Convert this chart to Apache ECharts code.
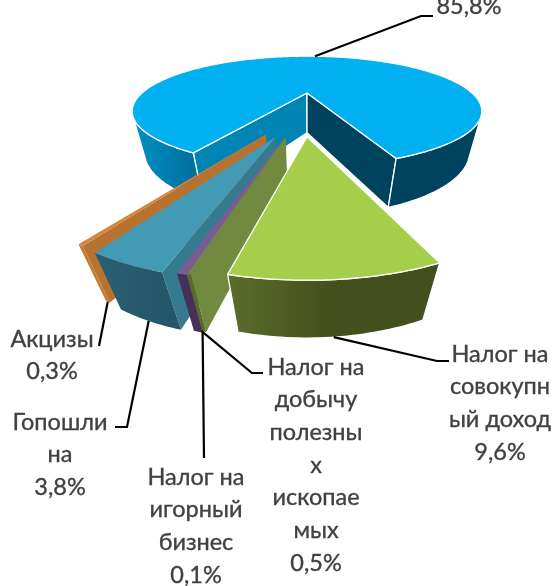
<!DOCTYPE html>
<html><head><meta charset="utf-8">
<style>html,body{margin:0;padding:0;background:#fff}#c{width:557px;height:586px}</style>
<script src="https://cdn.jsdelivr.net/npm/echarts@6/dist/echarts.min.js"></script>
</head><body><div id="c"></div>
<script>
// DATA
const categories = ['', 'Налог на\nсовокупн\nый доход', 'Налог на\nдобычу\nполезны\nх\nископае\nмых', 'Налог на\nигорный\nбизнес', 'Гопошли\nна', 'Акцизы'];
const shares = [85.8, 9.6, 0.5, 0.1, 3.8, 0.3];

// STYLE AND LAYOUT
const drawOrder = [0, 5, 4, 2, 3, 1];
const explode = [[0, 0], [0, 0.69], [-0.1, 0.69], [-0.103, 0.694], [-0.145, 0.69], [-0.195, 0.658]];
const minSweep = [0, 0, 0, 1.7, 0, 0];
const topColor = ['#00B0F0', '#A6CE4B', '#718A40', '#7A5C92', '#439AB4', '#D5843A'];
const startWall = ['#0084B4', '#43501C', '#718A40', null, '#367A90', '#B8722F'];
const endWall = ['#00435E', '#5A6B2A', '#718A40', '#46305A', '#255868', '#C47A32'];
const outerWallLeft = [['#0090C4', '#006C98'], ['#5A6B2A', '#43501C'], ['#5A6B2A', '#5A6B2A'], ['#46305A', '#46305A'], ['#2A6072', '#235565'], ['#C47A32', '#C47A32']];
const outerWallRight = [['#00435E', '#00435E'], ['#5C6D2B', '#434F1C', '#434F1C'], ['#5A6B2A', '#5A6B2A'], ['#46305A', '#46305A'], ['#2A6072', '#235565'], ['#C47A32', '#C47A32']];
const whiteEdge = [true, true, false, false, false, false];
const labelCenter = [[469, 6], [500, 354], [316, 367], [196, 477], [60, 422], [52, 339]];
const leaderFrac = [0.5, 0.5, 0.5, 0, 0.5, 0.5];
const leaderOnTop = [true, false, false, false, false, false];
const leaderBends = [[[421, 16], [433, 16]], [[437, 361], [449, 361]], [[252, 373], [263, 373]], [[204, 458]], [[127, 427], [115, 427]], [[99, 346]]];
const firstAngle = -29.41;
const lineHeight = 32.7;
const cam = {cx: 307, cy: 93, R: 165, Rk: 49, p: 0.33, vy: 714, t0: 0.064, t1: 0.055};

const total = shares.reduce((a, b) => a + b, 0);
const rad = d => d * Math.PI / 180;
// Projection of a point of the pie's plane, in radius units
function project(X, Y, bottom) {
  const s = 1 / (1 - cam.p * Y);
  let x = cam.cx + cam.R * X * s, y = cam.cy + cam.Rk * Y * s;
  if (bottom) {
    const t = cam.t0 + cam.t1 * (s - 1);
    x += (cam.cx - x) * t; y += (cam.vy - y) * t;
  }
  return [x, y];
}
function sliceAngles(i) {
  let c = 0;
  for (let k = 0; k < i; k++) c += shares[k];
  const a1 = firstAngle - c / total * 360;
  const a2 = firstAngle - (c + shares[i]) / total * 360;
  const sweep = Math.max(a1 - a2, minSweep[i]);
  return [a2 + sweep, a2];
}
function rim(i, a, bottom) {
  const e = explode[i];
  return project(e[0] + Math.sin(rad(a)), e[1] + Math.cos(rad(a)), bottom);
}
function area(p) {
  let s = 0;
  for (let k = 0; k < p.length; k++) { const n = p[(k + 1) % p.length]; s += p[k][0] * n[1] - n[0] * p[k][1]; }
  return s / 2;
}
function hGrad(c) {
  return {type: 'linear', x: 0, y: 0, x2: 1, y2: 0, colorStops: c.map((color, k) => ({offset: k / (c.length - 1), color}))};
}
function renderSlice(params, api) {
  const i = api.value(1), [a1, a2] = sliceAngles(i), e = explode[i];
  const children = [];
  const edge = whiteEdge[i] ? {stroke: '#fff', lineWidth: 1.3, lineJoin: 'round'} : {lineWidth: 0};
  const poly = (points, fill) => children.push({type: 'polygon', shape: {points}, style: Object.assign({fill}, edge)});
  const ct = project(e[0], e[1], false), cb = project(e[0], e[1], true);
  // cut walls
  const w1 = [ct, rim(i, a1, false), rim(i, a1, true), cb];
  if (area(w1) < 0 && startWall[i]) poly(w1, startWall[i]);
  const w2 = [ct, rim(i, a2, false), rim(i, a2, true), cb];
  if (area(w2) > 0) poly(w2, endWall[i]);
  // outer wall, front-facing runs only
  const n = Math.max(2, Math.ceil((a1 - a2) / 1));
  let run = [];
  const flush = () => {
    if (!run.length) return;
    const A = run[0], B = run[run.length - 1];
    const pts = run.map(a => rim(i, a, false)).concat(run.slice().reverse().map(a => rim(i, a, true)));
    const side = Math.sin(rad((A + B) / 2)) < 0 ? outerWallLeft[i] : outerWallRight[i];
    poly(pts, hGrad(side));
    run = [];
  };
  for (let k = 0; k < n; k++) {
    const u = a1 - (a1 - a2) * k / n, v = a1 - (a1 - a2) * (k + 1) / n;
    const q = [rim(i, u, false), rim(i, v, false), rim(i, v, true), rim(i, u, true)];
    if (area(q) < 0) { if (!run.length) run.push(u); run.push(v); } else flush();
  }
  flush();
  // top face
  const top = [ct];
  for (let k = 0; k <= n; k++) top.push(rim(i, a1 - (a1 - a2) * k / n, false));
  poly(top, topColor[i]);
  return {type: 'group', children};
}
function percent(v) { return v.toFixed(1).replace('.', ',') + '%'; }
function renderLabel(params, api) {
  const i = api.value(1), [a1, a2] = sliceAngles(i);
  const a = a1 - (a1 - a2) * leaderFrac[i];
  const start = rim(i, a, !leaderOnTop[i]);
  const text = (categories[i] ? categories[i] + '\n' : '') + percent(api.value(0));
  return {type: 'group', children: [
    {type: 'polyline', shape: {points: [start].concat(leaderBends[i])}, style: {stroke: '#000', fill: null, lineWidth: 2.2}},
    {type: 'text', x: labelCenter[i][0], y: labelCenter[i][1] - lineHeight / 2,
      style: {text, fill: '#404040', stroke: '#404040', lineWidth: 0.35, fontFamily: 'Lato', fontSize: 23.5, textAlign: 'center', textVerticalAlign: 'top', lineHeight}}
  ]};
}
const chart = echarts.init(document.getElementById('c'), null, {renderer: 'canvas'});
chart.setOption({
  animation: false,
  backgroundColor: '#fff',
  series: [
    {type: 'custom', coordinateSystem: 'none', silent: true, z: 2, renderItem: renderSlice, data: drawOrder.map(i => [shares[i], i])},
    {type: 'custom', coordinateSystem: 'none', silent: true, z: 3, renderItem: renderLabel, data: shares.map((v, i) => [v, i])}
  ]
});
</script></body></html>
